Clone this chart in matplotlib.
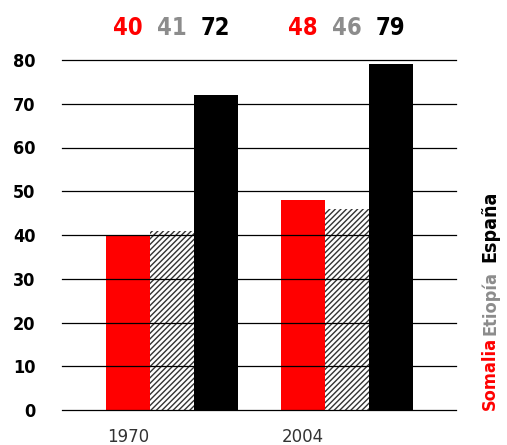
import numpy as np
import matplotlib.pyplot as plt

##### Data
years = ['1970', '2004']
countries = ['Somalia', 'Etiopía', 'España']
somalia = [40, 48]
etiopia = [41, 46]
espana = [72, 79]
y_ticks = [0, 10, 20, 30, 40, 50, 60, 70, 80]

##### Style
red = '#ff0000'
gray = '#8c8c8c'
black = '#000000'
plt.rcParams['hatch.color'] = '#333333'
plt.rcParams['hatch.linewidth'] = 1.0

fig = plt.figure(figsize=(5.07, 4.45), dpi=100)
ax = fig.add_axes([62 / 507, 35 / 445, (456 - 62) / 507, 350 / 445])

x = np.arange(len(years))
w = 0.25

ax.bar(x - w, somalia, w, color=red, zorder=2)
ax.bar(x, etiopia, w, color='white', edgecolor='#333333', hatch='//////',
       linewidth=0, zorder=2)
ax.bar(x + w, espana, w, color=black, zorder=2)

# gridlines over the bars
for v in y_ticks:
    ax.axhline(v, color='black', lw=0.9, zorder=3, clip_on=False)

ax.set_xlim(-0.629, 1.623)
ax.set_ylim(0, 80)
for s in ax.spines.values():
    s.set_visible(False)
ax.set_yticks(y_ticks)
ax.set_yticklabels([str(v) for v in y_ticks], fontweight='bold',
                   fontsize=13, fontstretch='condensed')
ax.tick_params(axis='y', length=0, pad=19)
ax.set_xticks(x - w)
ax.set_xticklabels(years, fontsize=12, color='#333333')
ax.tick_params(axis='x', length=0, pad=13)

# values on top
trans = ax.get_xaxis_transform()
for vals, off, col in [(somalia, -w, red), (etiopia, 0, gray), (espana, w, black)]:
    for i, v in enumerate(vals):
        ax.text(x[i] + off, 1.091, str(v), transform=trans, ha='center',
                va='center', fontsize=17, fontweight='bold',
                fontstretch='condensed', color=col)

# vertical legend
fig.text(0.966, 35 / 445, 'Somalia', rotation=90, ha='center', va='bottom',
         fontsize=13, fontweight='bold', fontstretch='condensed', color=red)
fig.text(0.966, 110 / 445, 'Etiopía', rotation=90, ha='center', va='bottom',
         fontsize=13, fontweight='bold', fontstretch='condensed', color=gray)
fig.text(0.966, 183 / 445, 'España', rotation=90, ha='center', va='bottom',
         fontsize=14, fontweight='bold', fontstretch='condensed', color=black)

fig.savefig('out.png', dpi=100)
